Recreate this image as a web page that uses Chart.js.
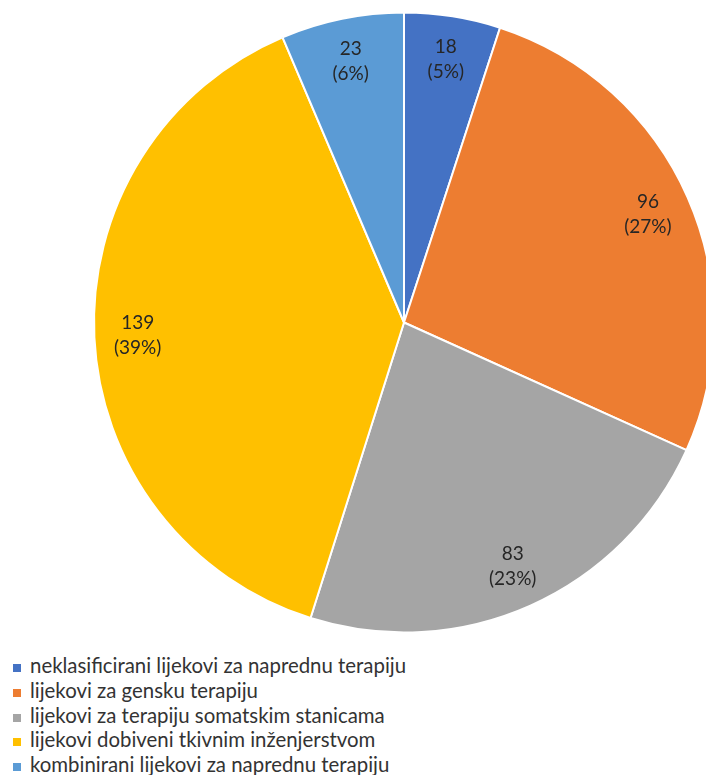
<!DOCTYPE html>
<html>
<head>
<meta charset="utf-8">
<script src="https://cdn.jsdelivr.net/npm/chart.js@4"></script>
<style>
  html, body { margin: 0; padding: 0; background: #fff; overflow: hidden; width: 706px; height: 775px; }
  #wrap { position: absolute; left: 0; top: 0; width: 808px; height: 645px; }
  #legend { position: absolute; left: 13px; top: 653px; font-family: Lato, sans-serif; font-size: 20.4px; color: #333; }
  #legend div { height: 24.75px; line-height: 24.75px; white-space: nowrap; }
  #legend span.box { display: inline-block; width: 8px; height: 8px; margin-right: 9px; vertical-align: 1px; }
</style>
</head>
<body>
<div id="wrap"><canvas id="pie" width="808" height="645"></canvas></div>
<div id="legend"></div>
<script>
// Kategorije i vrijednosti
const categories = [
  'neklasificirani lijekovi za naprednu terapiju',
  'lijekovi za gensku terapiju',
  'lijekovi za terapiju somatskim stanicama',
  'lijekovi dobiveni tkivnim inženjerstvom',
  'kombinirani lijekovi za naprednu terapiju'
];
const counts = [18, 96, 83, 139, 23];
const percentLabels = ['5%', '27%', '23%', '39%', '6%'];
const colors = ['#4472C4', '#ED7D31', '#A5A5A5', '#FFC000', '#5B9BD5'];

// oznake na kriskama (vrijednost i postotak)
const sliceLabels = {
  id: 'sliceLabels',
  afterDatasetsDraw(chart) {
    const ctx = chart.ctx;
    const meta = chart.getDatasetMeta(0);
    ctx.save();
    ctx.font = '19px Lato, sans-serif';
    ctx.fillStyle = '#262626';
    ctx.textAlign = 'center';
    ctx.textBaseline = 'middle';
    meta.data.forEach(function (arc, i) {
      const mid = (arc.startAngle + arc.endAngle) / 2;
      const r = arc.outerRadius * 0.86;
      const x = arc.x + Math.cos(mid) * r;
      const y = arc.y + Math.sin(mid) * r;
      ctx.fillText(String(counts[i]), x, y - 12.5);
      ctx.fillText('(' + percentLabels[i] + ')', x, y + 12.5);
    });
    ctx.restore();
  }
};

const pieChart = new Chart(document.getElementById('pie'), {
  type: 'pie',
  data: {
    labels: categories,
    datasets: [{
      data: counts,
      backgroundColor: colors,
      borderColor: '#ffffff',
      borderWidth: 2,
      hoverOffset: 0,
      radius: 310
    }]
  },
  options: {
    responsive: false,
    animation: false,
    devicePixelRatio: 1,
    plugins: {
      legend: { display: false },
      tooltip: { enabled: false }
    }
  },
  plugins: [sliceLabels]
});

// legenda
const legendEl = document.getElementById('legend');
categories.forEach(function (name, i) {
  const row = document.createElement('div');
  row.innerHTML = '<span class="box" style="background:' + colors[i] + '"></span>' + name;
  legendEl.appendChild(row);
});
</script>
</body>
</html>
